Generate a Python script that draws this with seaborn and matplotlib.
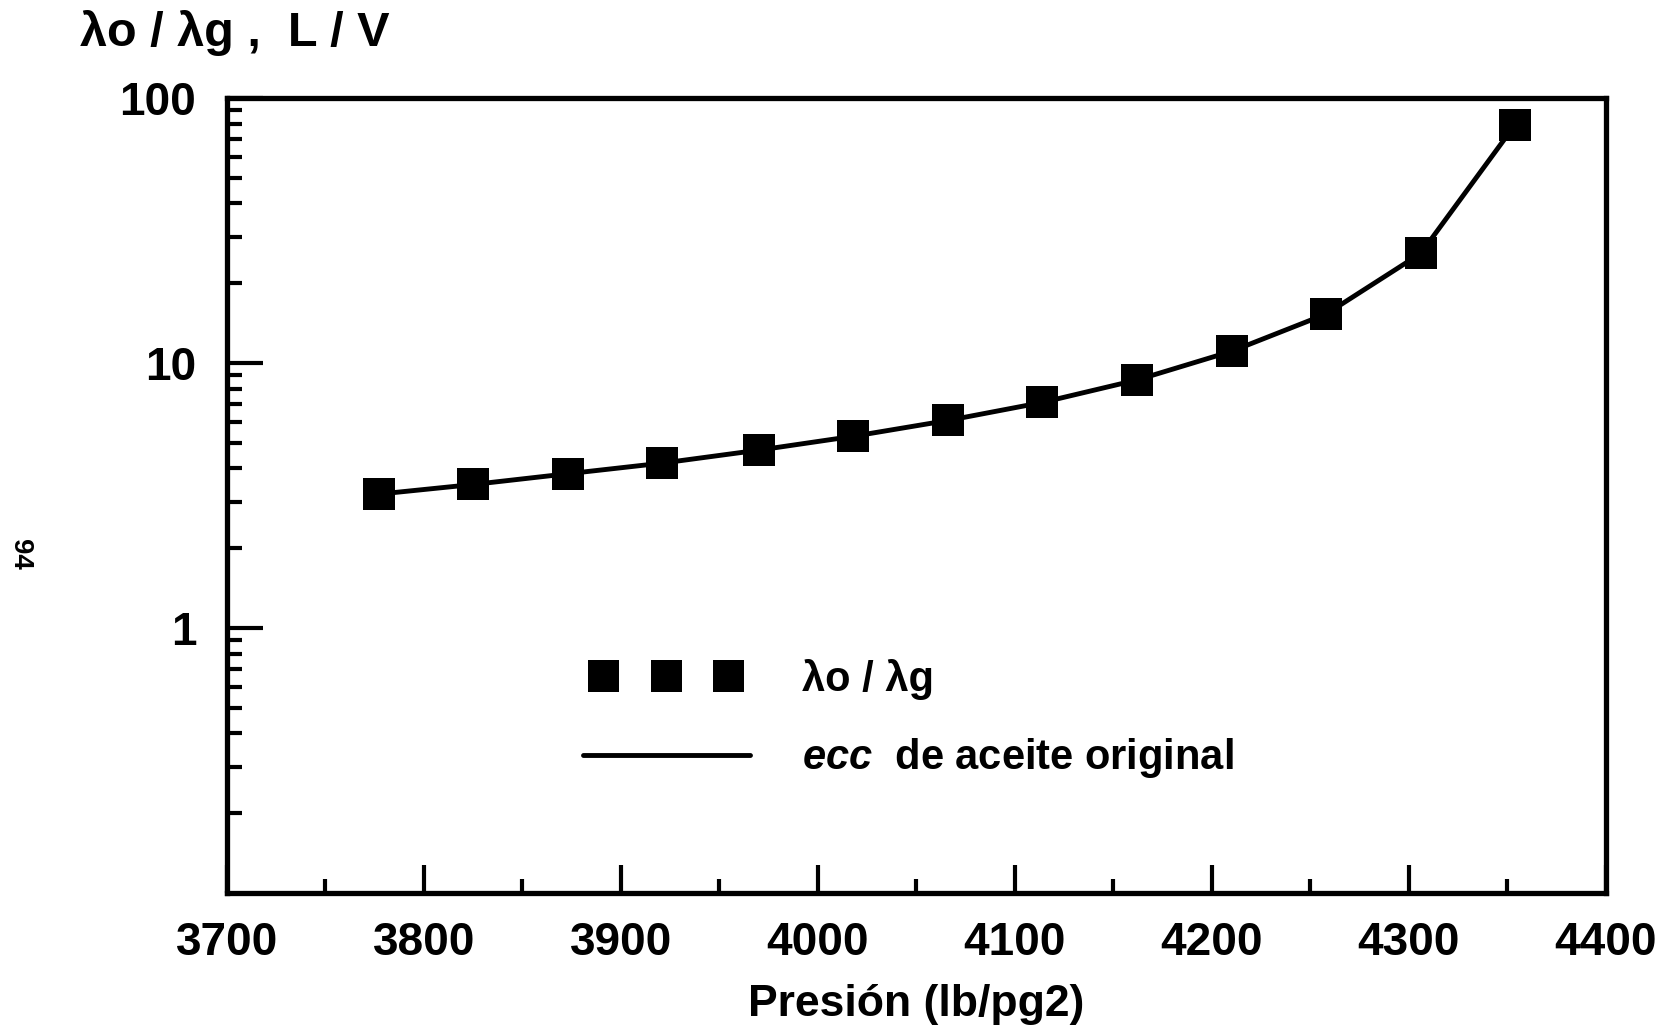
import numpy as np
import pandas as pd
import matplotlib
matplotlib.use("Agg")
import matplotlib.pyplot as plt
import matplotlib.ticker as mticker
from matplotlib.collections import PathCollection
from matplotlib.legend_handler import HandlerPathCollection
import seaborn as sns

# Data
presion = [3777, 3825, 3873, 3921, 3970, 4018, 4066, 4114, 4162, 4210, 4258, 4306, 4354]
ratio = [3.2, 3.48, 3.82, 4.19, 4.69, 5.29, 6.07, 7.1, 8.63, 11.07, 15.3, 25.9, 79.4]
x_ticks = [3700, 3800, 3900, 4000, 4100, 4200, 4300, 4400]
y_ticks = [1, 10, 100]
y_ticklabels = ["1", "10", "100"]

df = pd.DataFrame({"Presion": presion, "ratio": ratio})

sns.set_theme(style="white")
plt.rcParams["font.family"] = ["Liberation Sans", "DejaVu Sans"]
plt.rcParams["font.weight"] = "bold"
plt.rcParams["text.color"] = "black"
plt.rcParams["axes.labelcolor"] = "black"
plt.rcParams["xtick.color"] = "black"
plt.rcParams["ytick.color"] = "black"
plt.rcParams["mathtext.fontset"] = "custom"
plt.rcParams["mathtext.it"] = "Liberation Sans:italic:bold"
plt.rcParams["mathtext.rm"] = "Liberation Sans:bold"

fig = plt.figure(figsize=(16.71, 10.34), dpi=100)
ax = fig.add_axes([0.1358, 0.1364, 0.961 - 0.1358, 0.9052 - 0.1364])

sns.lineplot(data=df, x="Presion", y="ratio", ax=ax, color="black", lw=3.5,
             label=r"$\it{ecc}$  de aceite original", zorder=2)
sns.scatterplot(data=df, x="Presion", y="ratio", ax=ax, color="black", marker="s",
                s=500, edgecolor="black", linewidth=0, label="λo / λg", zorder=3)

ax.set_yscale("log")
ax.set_xlim(3700, 4400)
ax.set_ylim(0.1, 100)

ax.xaxis.set_major_locator(mticker.FixedLocator(x_ticks))
ax.xaxis.set_minor_locator(mticker.MultipleLocator(50))
ax.set_xticklabels([str(t) for t in x_ticks])
ax.yaxis.set_major_locator(mticker.FixedLocator(y_ticks))
ax.set_yticklabels(y_ticklabels)
ax.yaxis.set_minor_locator(mticker.LogLocator(base=10, subs=np.arange(2, 10)))
ax.yaxis.set_minor_formatter(mticker.NullFormatter())

ax.tick_params(axis="both", which="both", direction="in", top=False, right=False,
               left=True, bottom=True, labelsize=33, width=3, color="black",
               labelcolor="black")
ax.tick_params(axis="x", which="major", length=20, pad=20)
ax.tick_params(axis="x", which="minor", length=10)
ax.tick_params(axis="y", which="major", length=26, pad=22)
ax.tick_params(axis="y", which="minor", length=11)
for lab in ax.get_xticklabels() + ax.get_yticklabels():
    lab.set_fontweight("bold")

for sp in ax.spines.values():
    sp.set_visible(True)
    sp.set_color("black")
    sp.set_linewidth(3.8)

ax.set_xlabel("Presión (lb/pg2)", fontsize=32, fontweight="bold", labelpad=14,
              color="black")
ax.set_ylabel("")
fig.text(0.048, 0.99, "λo / λg ,  L / V", fontsize=35, fontweight="bold",
         ha="left", va="top", color="black")
fig.text(0.012, 0.464, "94", fontsize=20, fontweight="bold", rotation=-90,
         ha="center", va="center", color="black")

handles, labels = ax.get_legend_handles_labels()
i_sc = labels.index("λo / λg")
order = [i_sc, 1 - i_sc]
leg = ax.legend([handles[i] for i in order], [labels[i] for i in order],
                loc="upper left", bbox_to_anchor=(0.231, 0.342), frameon=False,
                fontsize=30, scatterpoints=3, scatteryoffsets=[0.5],
                handlelength=4.0, handletextpad=1.25, labelspacing=0.88,
                handler_map={PathCollection: HandlerPathCollection(marker_pad=0.5)})
for t in leg.get_texts():
    t.set_fontweight("bold")
    t.set_color("black")

fig.savefig("out.png", dpi=100, facecolor="white")
